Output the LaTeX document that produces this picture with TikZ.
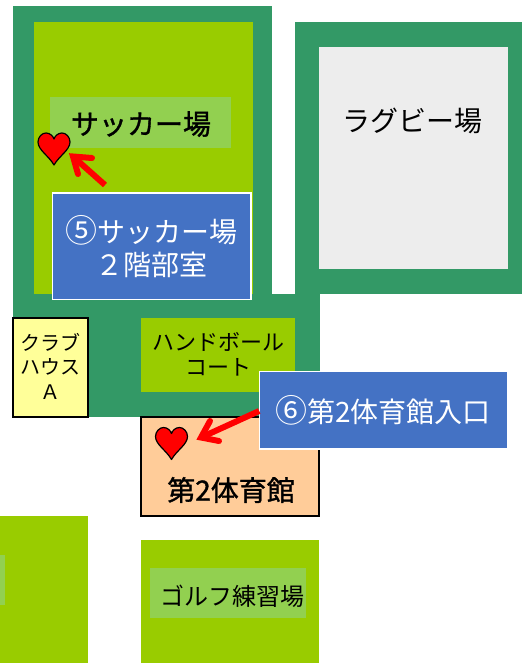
\documentclass[tikz,border=0pt]{standalone}
\usepackage{fontspec}
\setmainfont{Noto Sans CJK JP}
\newfontfamily\heavyjp[FakeBold=1.2]{Noto Sans CJK JP}
\definecolor{fieldgreen}{HTML}{339966}
\definecolor{lime}{HTML}{99CC00}
\definecolor{labelgreen}{HTML}{92D050}
\definecolor{greyfield}{HTML}{EDEDED}
\definecolor{peach}{HTML}{FFCC99}
\definecolor{paleyellow}{HTML}{FFFF99}
\definecolor{bluebox}{HTML}{4472C4}
\newcommand{\circnum}[1]{{\fontsize{32}{33}\selectfont #1}}
\tikzset{
  x=1pt,y=-1pt,
  area/.style={anchor=north west,inner sep=0pt,outer sep=0pt,draw=none},
  txt/.style={inner sep=0pt,align=center,text=black},
  big/.style={font=\fontsize{28}{33}\selectfont},
  bigheavy/.style={font=\fontsize{28}{33}\selectfont\heavyjp},
  mid/.style={font=\fontsize{22}{25}\selectfont},
  small/.style={font=\fontsize{20}{24.5}\selectfont},
  callout/.style={big,text=white,align=center,inner sep=0pt,outer sep=0pt,fill=bluebox,draw=white,line width=1.3pt},
  pointer/.style={draw=red,line width=6pt},
  barbs/.style={draw=red,line width=6pt,line cap=round,line join=miter,miter limit=10},
  heart/.pic={\draw[fill=red,draw=black,line width=1.2pt,line join=round]
    (0,0) .. controls (-5,-9) and (-16,-15) .. (-16,-23)
    .. controls (-16,-28) and (-12,-32) .. (-8,-32)
    .. controls (-4,-32) and (-1,-29) .. (0,-26)
    .. controls (1,-29) and (4,-32) .. (8,-32)
    .. controls (12,-32) and (16,-28) .. (16,-23)
    .. controls (16,-15) and (5,-9) .. (0,0) -- cycle;}
}
\newcommand{\areabox}[6]{\node[area,fill=#6,minimum width=#4 pt-#2 pt,minimum height=#5 pt-#3 pt] (#1) at (#2,#3) {};}
\begin{document}
\begin{tikzpicture}
\useasboundingbox (0,0) rectangle (522,663);
% fields
\areabox{soccerring}{13}{6}{272}{294}{fieldgreen}
\areabox{lowerring}{13}{294}{320}{417}{fieldgreen}
\areabox{soccer}{34}{22}{253}{294}{lime}
\areabox{rugbyring}{295}{22}{522}{294}{fieldgreen}
\areabox{rugby}{319}{47}{508}{269}{greyfield}
\areabox{handball}{141}{318}{295}{392}{lime}
\areabox{leftfield}{0}{516}{88}{663}{lime}
\areabox{leftlabel}{0}{555}{5}{605}{labelgreen}
\areabox{golf}{141}{540}{319}{663}{lime}
\areabox{golflabel}{150}{568}{306}{618}{labelgreen}
\areabox{soccerlabel}{50}{97}{231}{148}{labelgreen}
% buildings
\node[area,anchor=center,fill=paleyellow,draw=black,line width=2pt,minimum width=75pt,minimum height=99pt] (clubbox) at (50.4,367.4) {};
\node[area,anchor=center,fill=peach,draw=black,line width=2pt,minimum width=178pt,minimum height=98.5pt] (gym) at (230,466.7) {};
% labels
\node[txt,big] (rugbytext) at (412,121) {ラグビー場};
\node[txt,bigheavy] (soccertext) at (141,124) {サッカー場};
\node[txt,mid] (handballtext) at (218,354) {ハンドボール\\コート};
\node[txt,small] (clubtext) at (50,366) {クラブ\\ハウス\\Ａ};
\node[txt,bigheavy] (gymtext) at (231,490) {第2体育館};
\node[txt,font=\fontsize{24}{28}\selectfont] (golftext) at (232,596) {ゴルフ練習場};
% callouts
\node[callout,minimum width=198.7pt,minimum height=106.4pt] (callfive) at (151.7,246.2) {\circnum{⑤}サッカー場\\２階部室};
\node[callout,minimum width=248pt,minimum height=77.5pt] (callsix) at (383.2,410.2) {\circnum{⑥}第2体育館入口};
% hearts and pointers
\pic at (54,165) {heart};
\pic at (171.5,459.5) {heart};
\coordinate (fivefrom) at (105,185);
\coordinate (fiveto) at (73,156.5);
\coordinate (fivebarba) at (92,158);
\coordinate (fivebarbb) at (78,174);
\coordinate (sixto) at (201,437.5);
\coordinate (sixbarba) at (219,441);
\coordinate (sixbarbb) at (210,421);
\draw[pointer] (fivefrom) -- (fiveto);
\draw[barbs] (fivebarba) -- (fiveto) -- (fivebarbb);
\draw[pointer] (callsix.west |- 0,411) -- (sixto);
\draw[barbs] (sixbarba) -- (sixto) -- (sixbarbb);
\end{tikzpicture}
\end{document}
